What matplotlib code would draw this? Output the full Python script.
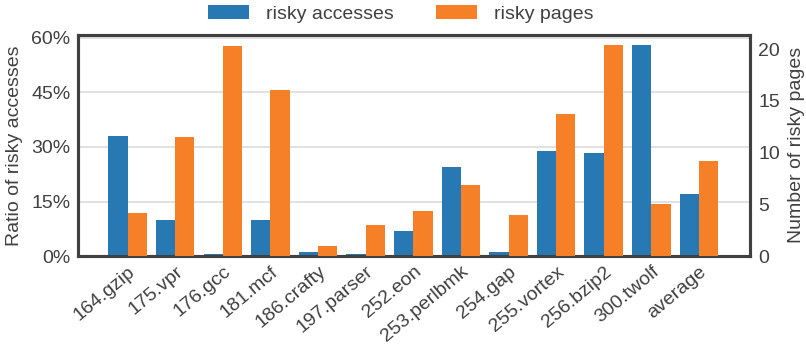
import matplotlib.pyplot as plt
import numpy as np
from matplotlib.ticker import PercentFormatter

benchmarks = ['164.gzip', '175.vpr', '176.gcc', '181.mcf', '186.crafty', '197.parser',
              '252.eon', '253.perlbmk', '254.gap', '255.vortex', '256.bzip2', '300.twolf',
              'average']
# ratio of risky accesses (percent), left axis
risky_access = [32.9, 9.9, 0.55, 9.9, 1.1, 0.55, 6.9, 24.4, 1.1, 28.8, 28.3, 57.9, 17.0]
# number of risky pages, right axis
risky_pages = [4.18, 11.53, 20.3, 16.04, 0.97, 3.0, 4.35, 6.86, 3.96, 13.7, 20.4, 5.02, 9.18]

blue = '#2878b4'
orange = '#f58027'
ink = '#404040'

plt.rcParams['font.family'] = ['Liberation Sans', 'DejaVu Sans']
plt.rcParams['font.size'] = 14
plt.rcParams['text.color'] = ink
plt.rcParams['axes.labelcolor'] = ink
plt.rcParams['xtick.color'] = ink
plt.rcParams['ytick.color'] = ink

fig, ax = plt.subplots(figsize=(8.06, 3.5), dpi=100)
fig.subplots_adjust(left=0.0962, right=0.9305, top=0.901, bottom=0.268)
ax2 = ax.twinx()

x = np.arange(len(benchmarks))
w = 0.405
b1 = ax.bar(x - w / 2, risky_access, w, color=blue, label='risky accesses', zorder=3)
b2 = ax2.bar(x + w / 2, risky_pages, w, color=orange, label='risky pages', zorder=3)

ax.set_xlim(-1.05, 13.07)
ax.set_ylim(0, 60.8)
ax.set_yticks([0, 15, 30, 45, 60])
ax.yaxis.set_major_formatter(PercentFormatter(decimals=0))
ax2.set_ylim(0, 21.4)
ax2.set_yticks([0, 5, 10, 15, 20])

ax.yaxis.grid(True, color='#dcdcdc', lw=1.2, zorder=0)
ax.set_axisbelow(True)

ax.set_xticks(x)
ax.set_xticklabels(benchmarks, rotation=40, ha='right', rotation_mode='anchor')
ax.tick_params(axis='both', length=0, pad=5)
ax2.tick_params(axis='y', length=0, pad=6)

ax.set_ylabel('Ratio of risky accesses', labelpad=6)
ax2.set_ylabel('Number of risky pages', labelpad=6)

for a in (ax, ax2):
    for s in a.spines.values():
        s.set_color('#404040')
        s.set_linewidth(2.2)

fig.legend(handles=[b1, b2], loc='upper center', ncol=2, frameon=False,
           bbox_to_anchor=(0.497, 1.035), handlelength=2.1, handleheight=0.75,
           columnspacing=2.2, handletextpad=0.87)

fig.savefig('out.png', dpi=100)
